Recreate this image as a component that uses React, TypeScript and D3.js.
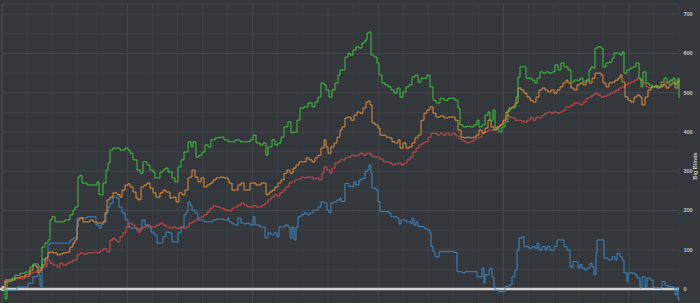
import React from "react";
import * as d3 from "d3";

// hands (x) and big blinds (y)
const greenSeries: [number, number][] = [[0,0],[2,-25],[4,20],[9,28],[12,35],[17,40],[22,43],[27,56],[30,64],[35,56],[37,54],[39,107],[42,117],[45,125],[47,176],[49,184],[52,171],[57,171],[62,176],[67,189],[70,201],[72,209],[75,285],[77,290],[79,270],[84,265],[89,265],[94,273],[96,240],[100,270],[103,303],[105,321],[107,354],[110,359],[117,354],[122,359],[125,354],[127,346],[130,329],[134,303],[137,295],[140,324],[144,316],[147,303],[150,298],[152,283],[157,298],[160,303],[162,308],[165,298],[169,283],[172,273],[175,311],[178,329],[181,349],[185,375],[188,362],[190,375],[193,336],[196,341],[199,349],[202,367],[205,362],[208,380],[212,385],[217,387],[221,380],[225,375],[227,375],[232,380],[237,375],[242,375],[247,380],[250,392],[253,372],[257,367],[260,372],[263,341],[265,362],[269,380],[272,367],[275,372],[278,387],[281,413],[285,426],[288,398],[291,400],[294,430],[297,461],[301,464],[305,474],[309,464],[312,476],[315,489],[318,525],[321,520],[323,507],[326,489],[329,507],[332,525],[335,545],[337,558],[339,558],[342,591],[345,601],[347,596],[350,609],[353,617],[356,614],[359,627],[362,634],[364,652],[366,655],[368,596],[371,591],[374,576],[376,545],[379,525],[382,520],[385,515],[388,507],[391,499],[394,512],[397,489],[400,502],[403,515],[406,520],[409,540],[412,545],[415,527],[418,537],[421,537],[424,545],[427,515],[430,481],[433,474],[437,486],[441,481],[445,486],[449,486],[452,481],[455,461],[457,418],[460,413],[464,415],[467,413],[471,418],[474,430],[476,413],[479,418],[482,443],[485,451],[487,430],[490,456],[492,410],[496,400],[499,413],[502,426],[505,456],[508,461],[511,464],[513,489],[515,540],[517,566],[520,566],[523,537],[526,537],[529,532],[532,525],[534,537],[537,553],[540,550],[543,553],[546,550],[549,553],[552,571],[555,558],[558,576],[561,566],[565,558],[568,527],[571,532],[574,532],[577,537],[580,527],[583,532],[586,558],[588,566],[590,563],[592,614],[595,617],[598,614],[600,566],[603,576],[606,578],[609,588],[611,601],[614,601],[617,596],[619,604],[621,550],[624,558],[627,563],[630,566],[633,576],[636,537],[638,515],[640,553],[643,525],[646,520],[649,515],[652,518],[655,515],[658,527],[661,537],[664,525],[667,532],[670,537],[672,520],[674,532],[675,537],[676,486]];

const orangeSeries: [number, number][] = [[0,0],[2,23],[7,23],[12,28],[17,31],[22,36],[27,48],[30,61],[33,56],[35,41],[37,48],[39,61],[42,79],[45,92],[47,94],[50,92],[54,87],[57,89],[60,92],[64,94],[67,107],[70,117],[72,125],[74,158],[75,176],[77,181],[80,171],[84,171],[87,176],[90,171],[94,168],[97,168],[100,171],[102,194],[104,227],[107,234],[110,245],[114,240],[117,234],[119,252],[122,265],[125,268],[127,260],[130,247],[133,232],[135,227],[138,260],[141,265],[144,270],[147,257],[150,245],[153,234],[157,245],[160,252],[163,247],[167,232],[170,234],[173,222],[176,245],[179,240],[182,252],[185,283],[187,285],[189,303],[192,285],[195,273],[198,283],[201,260],[204,265],[207,270],[210,278],[213,283],[217,285],[221,283],[225,278],[226,270],[229,252],[232,252],[235,265],[238,270],[241,252],[244,252],[247,270],[250,270],[253,265],[256,265],[258,270],[261,270],[263,240],[266,247],[269,252],[272,260],[275,270],[278,278],[281,295],[284,303],[287,295],[290,308],[293,316],[296,324],[300,324],[303,334],[306,329],[309,324],[312,334],[315,341],[318,359],[321,380],[323,362],[325,346],[328,362],[331,372],[334,387],[337,405],[339,413],[342,436],[345,438],[348,430],[351,443],[354,451],[357,448],[360,461],[363,476],[365,479],[367,469],[369,423],[372,418],[375,410],[377,392],[380,392],[383,387],[386,385],[389,375],[392,372],[395,380],[397,359],[400,372],[403,359],[406,362],[409,372],[412,385],[415,392],[418,430],[421,448],[424,456],[427,464],[430,448],[433,438],[437,441],[441,436],[445,438],[449,438],[452,430],[455,405],[458,387],[461,385],[464,387],[467,385],[470,387],[473,392],[476,405],[479,398],[482,410],[485,430],[488,413],[491,405],[494,413],[497,418],[500,430],[503,451],[506,461],[509,464],[512,474],[515,512],[518,507],[521,499],[524,489],[527,481],[530,476],[533,489],[536,507],[539,512],[542,507],[545,502],[548,507],[551,499],[554,507],[557,515],[560,525],[563,532],[565,525],[568,512],[571,507],[574,520],[577,525],[580,520],[583,532],[586,525],[589,537],[592,550],[595,550],[598,545],[600,525],[603,515],[606,525],[609,527],[612,532],[615,537],[617,545],[619,527],[622,489],[625,481],[628,476],[631,489],[634,494],[637,489],[639,469],[642,489],[645,507],[648,515],[651,515],[654,512],[657,515],[660,520],[663,512],[666,520],[669,525],[672,512],[675,532],[676,527]];

const redSeries: [number, number][] = [[0,0],[2,18],[7,23],[12,28],[17,26],[22,31],[27,41],[30,43],[34,48],[37,54],[40,56],[44,74],[47,66],[50,61],[54,56],[57,66],[60,61],[64,66],[67,69],[70,74],[74,87],[77,92],[80,89],[84,92],[87,92],[90,94],[94,92],[97,97],[100,102],[104,94],[107,125],[110,130],[112,125],[114,120],[117,133],[120,143],[123,158],[126,168],[129,163],[132,155],[135,145],[138,155],[141,158],[144,163],[147,158],[150,158],[153,163],[157,168],[160,163],[163,158],[167,155],[170,158],[173,155],[177,158],[180,155],[183,158],[186,168],[189,171],[192,176],[195,181],[198,184],[201,189],[204,196],[207,206],[210,212],[213,209],[217,206],[221,201],[225,201],[226,199],[229,206],[232,209],[235,214],[238,219],[241,214],[244,209],[247,209],[250,212],[253,209],[256,209],[259,214],[262,219],[265,227],[268,234],[271,240],[274,237],[277,245],[280,252],[283,260],[286,270],[289,273],[292,278],[295,280],[298,285],[301,283],[304,285],[307,285],[310,280],[313,283],[316,278],[319,295],[321,311],[324,303],[327,295],[329,308],[332,321],[335,324],[337,329],[339,329],[342,334],[345,336],[348,341],[351,339],[354,341],[357,346],[360,341],[363,346],[365,346],[368,339],[371,336],[374,336],[377,331],[380,324],[383,324],[386,321],[389,316],[392,319],[395,321],[398,316],[401,321],[404,329],[407,336],[410,349],[413,359],[416,367],[419,372],[422,375],[425,387],[428,397],[431,397],[434,392],[437,397],[440,392],[443,397],[446,392],[449,397],[452,392],[455,385],[458,380],[461,375],[464,372],[467,375],[470,380],[473,385],[476,387],[479,397],[482,400],[485,405],[488,405],[491,407],[494,413],[497,418],[500,430],[503,443],[506,438],[509,436],[512,430],[515,430],[518,428],[521,425],[524,430],[527,436],[530,430],[533,438],[536,436],[539,443],[542,448],[545,451],[548,448],[551,451],[554,448],[557,451],[560,456],[563,464],[565,464],[568,469],[571,474],[574,474],[577,469],[580,476],[583,486],[586,489],[589,494],[592,499],[595,494],[598,489],[601,491],[604,494],[607,499],[610,502],[613,507],[616,512],[619,515],[622,520],[625,525],[628,527],[631,532],[634,537],[637,532],[640,525],[643,515],[646,512],[649,515],[652,518],[655,515],[658,520],[661,525],[664,527],[667,532],[670,527],[673,525],[676,527]];

const blueSeries: [number, number][] = [[0,0],[2,-3],[14,5],[25,15],[30,31],[34,36],[37,10],[38,5],[39,74],[42,74],[44,82],[45,112],[47,117],[64,117],[67,125],[70,130],[74,181],[77,181],[84,184],[90,184],[93,163],[96,155],[98,163],[100,171],[103,194],[105,209],[107,219],[110,234],[114,232],[116,209],[119,194],[122,176],[125,158],[128,155],[131,155],[134,150],[137,155],[139,176],[142,163],[145,158],[148,145],[151,138],[154,117],[157,117],[160,133],[163,145],[166,143],[169,120],[172,120],[175,143],[178,158],[181,189],[183,196],[185,222],[187,214],[189,201],[192,194],[195,176],[198,176],[201,171],[204,171],[207,171],[210,176],[213,178],[217,178],[221,176],[225,181],[226,171],[229,166],[232,163],[235,181],[238,168],[241,166],[244,168],[247,163],[250,184],[252,163],[255,163],[257,158],[260,158],[262,130],[265,143],[268,138],[271,143],[274,133],[276,158],[279,158],[282,163],[285,158],[287,130],[289,158],[291,125],[293,158],[295,184],[298,189],[301,194],[304,189],[307,194],[310,201],[313,201],[315,209],[318,222],[321,219],[324,201],[326,194],[328,219],[331,222],[334,227],[337,232],[338,223],[342,269],[346,261],[351,273],[353,265],[356,278],[359,282],[362,299],[364,303],[366,316],[368,295],[369,257],[373,252],[375,223],[377,197],[386,193],[388,184],[394,180],[396,166],[398,176],[403,171],[408,167],[409,180],[411,163],[413,171],[415,159],[421,155],[424,150],[427,142],[428,108],[430,95],[432,82],[435,81],[436,95],[449,95],[452,93],[454,44],[459,41],[462,44],[472,44],[474,31],[477,31],[479,53],[481,15],[482,36],[486,48],[487,53],[489,30],[491,6],[492,-3],[496,-7],[501,-7],[502,6],[506,10],[509,31],[512,48],[514,99],[516,130],[519,133],[521,108],[526,104],[529,108],[532,104],[534,117],[536,99],[539,108],[542,99],[544,108],[547,99],[551,108],[554,125],[559,125],[561,108],[564,99],[567,57],[569,55],[570,70],[574,68],[575,53],[577,62],[579,53],[582,48],[584,53],[587,65],[589,57],[591,36],[593,91],[594,125],[600,125],[601,79],[605,74],[609,82],[612,74],[614,91],[617,82],[619,74],[621,41],[624,19],[625,41],[632,36],[634,28],[637,3],[639,31],[642,6],[644,28],[647,23],[650,6],[651,3],[657,3],[659,19],[662,10],[665,6],[669,6],[670,3],[672,-15],[674,3],[675,-25],[676,-30]];

const yTicks = [0, 100, 200, 300, 400, 500, 600, 700];
const yMinorTicks = [-50, 50, 150, 250, 350, 450, 550, 650];
const yTitle = "Big Blinds";

const W = 700;
const H = 303;

export default function App() {
  const x = d3.scaleLinear().domain([0, 676]).range([3, 679]);
  const y = d3.scaleLinear().domain([0, 700]).range([289, 14.25]);
  const line = d3
    .line<[number, number]>()
    .x((d) => x(d[0]))
    .y((d) => y(d[1]))
    .curve(d3.curveStepAfter);

  const plotLeft = 2;
  const plotRight = 679;
  const plotTop = 4;
  const vStep = (plotRight - plotLeft) / 27;
  const vLines = d3.range(0, 28).map((i) => ({ x: plotLeft + i * vStep, major: i % 5 === 0 }));

  const series = [
    { data: blueSeries, color: "#3f86c0" },
    { data: redSeries, color: "#d14a4a" },
    { data: orangeSeries, color: "#e0903c" },
    { data: greenSeries, color: "#3fc23f" },
  ];

  return (
    <div style={{ position: "fixed", left: 0, top: 0, width: W, height: H }}>
      <svg width={W} height={H} style={{ display: "block", fontFamily: "'Liberation Sans', Arial, sans-serif" }}>
        <rect x={0} y={0} width={W} height={H} fill="#34373c" />
        {yMinorTicks.map((t) => (
          <line key={"m" + t} x1={plotLeft} x2={plotRight} y1={y(t)} y2={y(t)} stroke="#3c3f44" strokeWidth={1} />
        ))}
        {vLines.map((v, i) => (
          <line key={"v" + i} x1={v.x} x2={v.x} y1={plotTop} y2={H} stroke={v.major ? "#45484d" : "#3c3f44"} strokeWidth={1} />
        ))}
        {yTicks.map((t) => (
          <line key={"g" + t} x1={plotLeft} x2={plotRight} y1={y(t)} y2={y(t)} stroke="#45484d" strokeWidth={1} />
        ))}
        <line x1={plotLeft} x2={plotRight} y1={plotTop} y2={plotTop} stroke="#45484d" strokeWidth={1} />
        <line x1={plotLeft} x2={plotLeft} y1={plotTop} y2={H} stroke="#4a4d52" strokeWidth={1} />
        <line x1={0} x2={plotRight} y1={y(0)} y2={y(0)} stroke="#d4d4d4" strokeWidth={2.5} />
        <rect x={1.5} y={y(0) - 3} width={3} height={5} fill="#bfbfbf" />
        {series.map((s, i) => (
          <path key={i} d={line(s.data) || ""} fill="none" stroke={s.color} strokeWidth={1} strokeLinejoin="round" />
        ))}
        {yTicks.map((t) => (
          <text key={"t" + t} x={683.5} y={y(t)} dy="0.35em" fontSize={5.5} fontWeight="bold" fill="#c4c4c4">
            {t}
          </text>
        ))}
        <text
          transform={`translate(695.5, 166) rotate(-90)`}
          textAnchor="middle"
          dy="0.35em"
          fontSize={5.5}
          fontWeight="bold"
          fill="#c4c4c4"
        >
          {yTitle}
        </text>
      </svg>
    </div>
  );
}
